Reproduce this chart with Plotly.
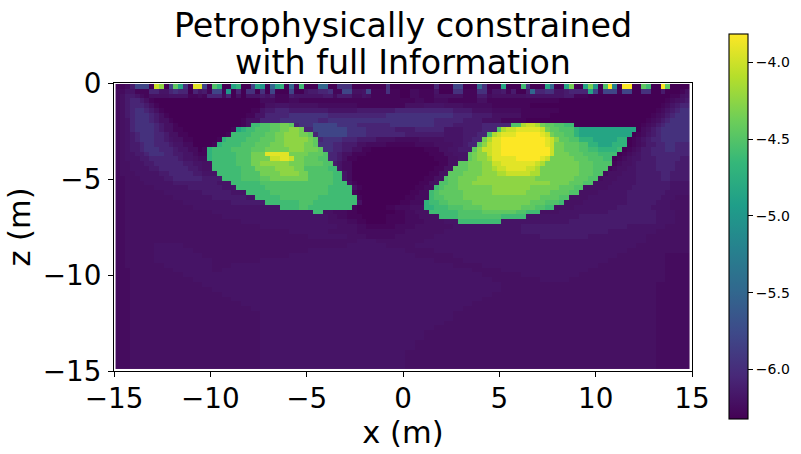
import re
import numpy as np
import plotly.graph_objects as go

TITLE_LINE_1 = "Petrophysically constrained"
TITLE_LINE_2 = "with full Information"
X_LABEL = "x (m)"
Y_LABEL = "z (m)"
X_TICKS = [-15, -10, -5, 0, 5, 10, 15]
Y_TICKS = [0, -5, -10, -15]
CBAR_TICKS = [-4.0, -4.5, -5.0, -5.5, -6.0]
Z_MIN = -6.326
Z_MAX = -3.817

LEVELS = dict(a=-6.33, b=-6.29, c=-6.25, d=-6.215, e=-6.19, f=-6.14, g=-6.07, h=-5.97,
              i=-5.8, j=-5.5, k=-5.2, l=-5.0, m=-4.85, n=-4.7, o=-4.6, p=-4.52,
              q=-4.45, r=-4.35, s=-4.25, t=-4.13, u=-4.02, v=-3.92, w=-3.82)

N_COLS = 119
# one string per depth row, top to bottom: level letter + first column of that run
ROW_RUNS = [
"b0 c2 f3 i4 a7 u8 s9 a10 i11 q12 m13 h14 a15 v16 i18 a19 p20 n21 a22 m24 n25 a26 i28 m29 l30 a31 j32 m33 n34 a35 j36 b37 o38 a39 j42 a44 h46 a49 h56 a57 g66 a67 i70 a72 j75 h76 a77 m80 a81 o84 h85 a86 m89 j90 a91 m93 r94 a95 m97 r98 l99 a100 p101 w102 k103 a104 w105 a107 q109 o110 a111 w113 q114 a115",
"c0 e2 b4 g7 e9 g11 h12 g13 a15 g16 e17 f18 b19 i20 b22 l23 a24 g25 a26 h27 a29 h30 a31 i32 a33 i36 a37 e39 f40 g42 h44 b45 i47 d49 e51 i52 b53 h56 b57 a59 c61 b63 e66 a67 h70 b72 h75 b77 e78 f80 b81 f82 a83 f85 j86 g87 h89 e91 f93 g94 m98 i99 b100 i101 b104 i105 a107 h109 a111 f113 a114 b117 d118",
"c0 d1 f2 e4 c5 b6 d7 e11 b15 c17 b18 g19 c22 g23 a24 d25 a26 e27 f30 e31 f32 b33 f36 e37 f43 c45 f46 c49 e51 d52 b53 a59 c61 b63 d66 b72 f75 c77 d78 e85 f93 b95 a98 b115 d117 e118",
"c0 d1 f2 g3 f5 d6 b7 a8 c30 b33 c36 b38 c62 b64 c66 b69 d75 b77 a92 b114 c115 d116 e117 f118",
"c0 d1 f2 g3 f6 d7 b8 a9 b30 d31 e33 d36 c42 b50 d60 e64 d68 c72 b78 a86 b113 c114 e115 f116 g117",
"c0 d1 f2 g3 h4 g6 f7 d8 b9 a10 b28 e30 f31 g33 f36 e44 f50 g58 f70 d74 c78 b84 a92 b112 c113 e114 f115 g116 h117",
"c0 d1 f2 g3 h4 g7 f8 d9 b10 a11 b27 e29 g31 h36 g44 h56 g70 f74 d78 b84 a90 b111 c112 d113 f114 g115 h116",
"c0 d1 e2 g3 h4 g7 f8 d9 b11 a12 b26 d27 g30 h34 g42 h44 g66 f72 d76 b80 a85 b110 c111 d112 f113 g114 h115",
"c0 d1 e2 g3 h4 g8 f9 d10 b12 a13 b26 d27 o28 p30 q32 r34 q36 g37 h38 i41 h46 g50 h57 g66 f70 g76 p82 t84 u85 t87 r88 q89 p91 o93 a95 b109 c110 d111 f112 g113 h114",
"c0 d1 e2 g3 h4 g8 f9 d10 b12 a14 b24 m25 n26 o27 p29 q32 r34 s36 r38 g39 i41 h48 g52 f58 g62 e68 f72 g76 p79 t80 u81 v83 u88 r89 q90 p92 n95 m96 a108 c109 d110 f111 g112 h113",
"c0 d1 e2 f3 g4 h5 g8 f10 d11 b13 a15 b23 o24 p28 q31 r33 s35 r38 q40 g41 i42 h48 g52 f60 e68 f72 g75 p77 t78 u79 v80 w83 v88 u89 r90 q91 p93 n95 m96 a107 b108 c109 e110 f111 g112 h113",
"c0 d1 e2 f3 g4 h5 g8 f10 e11 d12 b14 a16 b21 n22 o23 p27 q30 r33 s35 r40 q41 g42 h43 g47 f50 d54 c58 d63 e68 f72 g74 r76 t77 v78 w80 v89 u90 s91 q92 p94 n96 m99 n104 a106 b107 c108 e109 f110 g111 h113",
"c0 d1 e2 f3 g5 h6 g8 f11 e12 c14 a16 b20 n21 o22 p26 q29 r32 s35 r39 q41 h42 g45 f47 d50 c52 b56 c62 d66 e70 f72 g73 q75 s76 u77 v78 w80 v89 u90 r91 q93 p96 n98 m100 n103 a106 b107 c108 d109 f110 g112 h114 g116",
"c0 d1 e2 f3 g5 h6 g9 f12 e13 c15 a17 b18 n19 o20 p24 q28 r31 s36 r39 q42 h43 g45 f47 d49 b51 a53 b64 d67 e69 f71 q74 s75 u76 v78 w80 u90 r91 q93 p96 o98 n100 o104 a105 b106 c107 d108 f109 g111 h114 g116",
"c0 d1 e2 f4 g6 h7 g10 f12 e14 c16 b17 n19 o20 p25 r28 v31 r36 q40 p43 g44 f46 d47 b49 a52 b65 d68 e70 q73 r74 s75 u77 v78 w80 u90 r91 q94 p97 o100 a104 b105 c106 d107 e108 f109 g111",
"c0 d1 e2 f5 g7 f13 e14 d16 c17 n19 o20 p25 r28 u32 v34 u36 r37 q39 p42 g44 f46 d47 b48 a50 b66 d69 e71 q73 r74 s75 t77 v78 w83 v88 u89 r90 q95 p98 o101 a103 b104 c105 d106 e107 f109 g112 f117",
"c0 d1 e3 f6 g8 f14 e16 d18 o20 p25 r28 s30 r36 q39 p43 f45 e46 c47 a49 b67 d69 q71 r73 s76 u78 v80 u87 t88 r89 q96 p99 b103 c104 d105 e107 f108 g112 f116",
"c0 d1 e3 f7 g9 f15 e17 d18 o20 p26 r29 s33 r37 p39 o44 e46 c47 a49 b66 d68 q70 r73 s76 t78 u79 v81 u85 t87 r88 q96 p99 b102 c103 d104 e106 f108 g112 f116",
"c0 d1 e4 f9 g11 f16 e18 o21 p26 r30 s34 r38 p40 o45 e47 c48 a49 b65 d67 q69 r72 s76 t79 u81 t86 r88 q96 p99 c101 d102 e105 f108 g113 f115",
"c0 d2 e5 f10 g12 f18 o22 p26 q30 r32 p40 o45 e47 c48 a49 b64 d66 p68 q69 r71 s75 r87 q95 p98 c100 d101 e104 f108 g113 f115",
"c0 d2 e6 f12 e21 o24 p30 o45 d48 b49 a50 b63 d65 p67 q69 r71 s74 r90 q94 p97 d99 e103 f108 e115",
"c0 d2 e8 f15 e22 o25 p31 o44 d49 b50 a51 b62 c64 o66 p67 q68 r71 s78 r86 q92 p95 d97 e102 f107 e115",
"c0 d2 e10 f18 e24 o27 p32 o44 b49 a50 b61 c63 o65 p66 q67 r72 s78 r85 q90 p94 d96 e100 f106 e114",
"c0 d2 e12 f20 e27 o29 p34 o42 d50 b50 a51 b60 c62 o65 p66 q68 r72 r85 q88 p92 d94 e98 f106 e113 d116",
"c0 d2 e14 f24 o31 p38 o41 d50 a51 b59 c61 n64 o65 p67 q69 r74 q86 p89 o92 d93 e97 f106 e112 d115",
"c0 d2 e16 o34 p38 o40 d49 b49 a50 b56 c58 d61 n64 o66 p69 q72 r76 q84 p87 o89 d91 e95 f104 e111 d115",
"c0 d2 e20 o41 d43 c45 b48 a50 b58 c60 d62 o65 p71 q76 p83 o85 d88 e92 f102 e112 d116",
"c0 d2 e22 d44 c46 b48 a51 b56 c60 d63 o67 p71 o80 e85 f96 e112 d116",
"c0 d2 e26 d44 c48 b50 a52 b56 c60 d64 e68 o71 e80 f94 e112 d116",
"c0 d2 e30 d46 c50 b52 c58 d62 e70 f84 e106 d114",
"c0 d2 e36 d44 c50 d60 e68 f84 e102 d112",
"c0 d2 e40 d48 c52 d58 e66 f88 e98 d110",
"c0 d2 e50 d54 e64 d110",
"c0 d2 e8 d14 e48 d56 e62 d108",
"c0 d2 e8 d16 e40 d60 e66 d106",
"c0 d2 e8 d18 e36 d62 e70 d104 c114",
"c0 d2 e8 d20 e30 d66 e72 d102 c114",
"c0 d2 e10 d20 e24 d70 e76 d100 c114",
"c0 d3 e12 d20 e22 d74 e80 d98 c114",
"c0 d3 e14 d76 e84 d96 c114",
"c0 d3 e16 d78 e88 d94 c114",
"c0 d3 e18 d80 c112",
"c0 d3 e20 d80 c112",
"c0 d3 e22 d78 c112",
"c0 d3 e24 d76 c112",
"c0 d3 e26 d74 c112",
"c0 d3 e28 d72 c112",
"c0 d3 e30 d70 c112",
"c0 d3 e30 d70 c112",
"c0 d3 e30 d68 c112",
"c0 d3 e30 d66 c112",
"c0 d3 e30 d64 c112",
"c0 d3 e30 d64 c112",
"c0 d3 e30 d62 c112",
"c0 d3 e30 d62 c112",
"c0 d3 e30 d60 c112",
"c0 d3 e30 d60 c112",
"c0 d3 e30 d60 c112",
"c0 d3 e30 d60 c112",
]


def decode(row):
    cells = np.zeros(N_COLS)
    for letter, start in re.findall(r"([a-w])(\d+)", row):
        cells[int(start):] = LEVELS[letter]
    return cells


z = np.array([decode(r) for r in ROW_RUNS])
x_centers = -14.795 + 0.2503 * np.arange(N_COLS)
y_centers = -0.176 - 0.2514 * np.arange(len(ROW_RUNS))

W, H = 801, 454
L, R, T, B = 113.5, 692.5, 83.0, 371.5
PW, PH = R - L, B - T

fig = go.Figure(go.Heatmap(
    z=z[::-1], x=x_centers, y=y_centers[::-1],
    colorscale="Viridis", zmin=Z_MIN, zmax=Z_MAX,
    colorbar=dict(
        x=(729.5 - L) / PW, xanchor="left",
        y=(B - 34.3) / PH, yanchor="top", lenmode="pixels", len=384.7,
        thicknessmode="pixels", thickness=19, xpad=0, ypad=0,
        outlinecolor="black", outlinewidth=1.1,
        tickmode="array", tickvals=CBAR_TICKS, ticktext=["−4.0", "−4.5", "−5.0", "−5.5", "−6.0"],
        ticks="outside", ticklen=5, tickwidth=1, tickcolor="black",
        tickfont=dict(family="DejaVu Sans", size=14, color="black"),
    ),
))

axis_style = dict(
    showgrid=False, zeroline=False, showline=True, mirror=True,
    linecolor="black", linewidth=1.2, ticks="outside", ticklen=5, tickwidth=1.1,
    tickcolor="black", tickfont=dict(family="DejaVu Sans", size=27.8, color="black"),
    tickmode="array",
)
title_font = dict(family="DejaVu Sans", size=33.3, color="black")
fig.update_layout(
    width=W, height=H, autosize=False,
    paper_bgcolor="white", plot_bgcolor="white",
    margin=dict(l=L, r=W - R, t=T, b=H - B, pad=0, autoexpand=False),
    font=dict(family="DejaVu Sans", color="black"),
    title=dict(text=TITLE_LINE_1, x=403 / W, xanchor="center",
               y=(H - 25) / H, yanchor="middle", font=title_font),
    annotations=[dict(text=TITLE_LINE_2, xref="paper", yref="paper",
                      x=(403 - L) / PW, y=(B - 62) / PH, xanchor="center", yanchor="middle",
                      showarrow=False, font=title_font)],
    xaxis=dict(axis_style, range=[-15, 15], tickvals=X_TICKS, ticklabelstandoff=-2,
               title=dict(text=X_LABEL, font=dict(family="DejaVu Sans", size=30.5, color="black"), standoff=1)),
    yaxis=dict(axis_style, range=[-15, 0], tickvals=Y_TICKS, ticklabelstandoff=1,
               title=dict(text=Y_LABEL, font=dict(family="DejaVu Sans", size=30.5, color="black"), standoff=2)),
)

fig.write_html("out.html", config={"displayModeBar": False},
               post_script="document.body.style.margin='0';")
